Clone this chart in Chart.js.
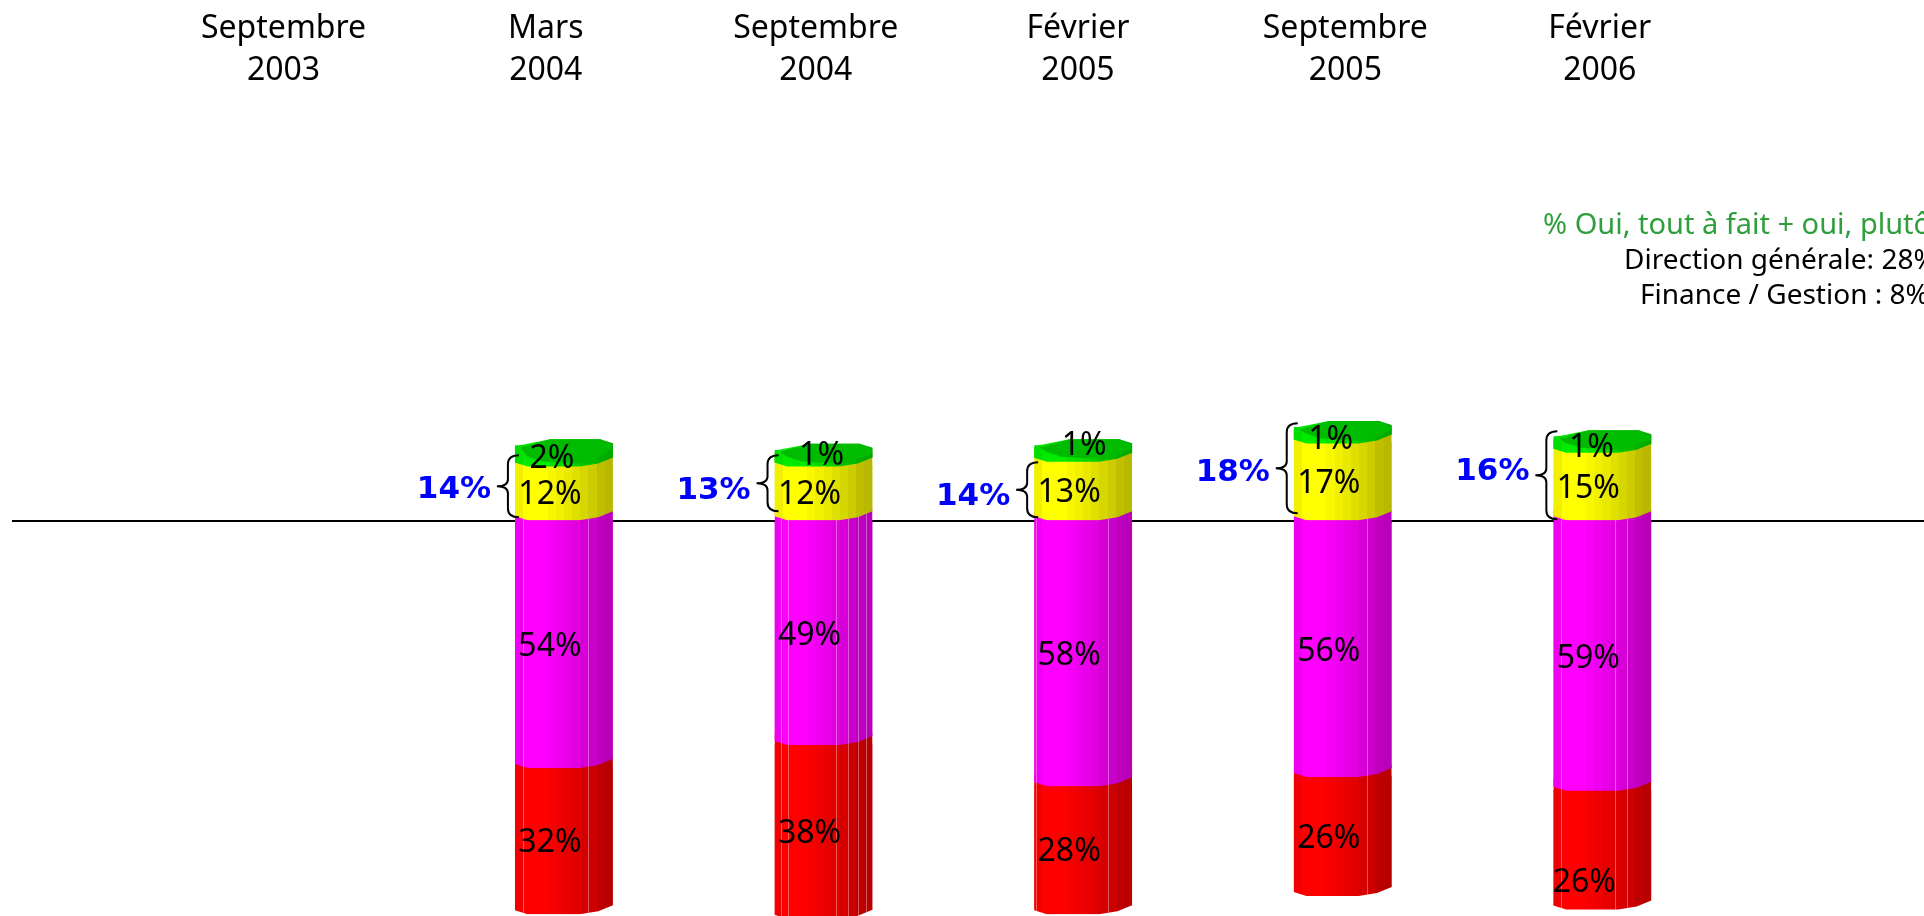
<!DOCTYPE html>
<html lang="fr">
<head>
<meta charset="utf-8">
<title>Sondage</title>
<script src="https://cdn.jsdelivr.net/npm/chart.js@4"></script>
<style>
  html, body { margin: 0; padding: 0; background: #fff; overflow: hidden; }
  canvas { display: block; }
</style>
</head>
<body>
<canvas id="myChart" width="1924" height="916"></canvas>
<script>
'use strict';

// Data (first period has no bar)
const periods = [['Septembre', '2003'], ['Mars', '2004'], ['Septembre', '2004'], ['Février', '2005'], ['Septembre', '2005'], ['Février', '2006']];
const greenValues = [null, 2, 1, 1, 1, 1];
const yellowValues = [null, 12, 12, 13, 17, 15];
const magentaValues = [null, -54, -49, -58, -56, -59];
const redValues = [null, -32, -38, -28, -26, -26];
const totals = [null, 14, 13, 14, 18, 16];
const noteLines = ['% Oui, tout à fait + oui, plutôt', 'Direction générale: 28%', 'Finance / Gestion : 8%'];

// Where the period labels sit on the x scale, they are not quite centred on the bars
const periodTicks = [-0.08, 0.93, 1.97, 2.98, 4.01, 4.99];

// Label nudges in pixels
const labelFont = '32px "Noto Sans"';
const greenNudge = [null, [-12, -5], [-2, -10], [1, -16], [-12, -3], [-11, -5]];
const redNudge = [null, [-14, 0], [-14, 0], [-14, 0], [-14, 0], [-18, 31]];
const totalNudge = [null, 4, 8, 7, 5, -3];
const braceSpans = [null, [-66, -4], [-66, -10], [-59, -4], [-98, -8], [-90, -2]];
const seams = [null, [0.08, 0.75], [0.07, 0.14, 0.63, 0.75, 0.85, 0.93], [0.02, 0.75], [0.75], [0.08, 0.63, 0.75]];

// Lower edge of every segment, [fraction of width, pixels]
const lowerEdge = [[0, -4], [0.13, 0], [0.66, 0], [0.85, -3], [1, -9]];
const shades = [0.94, 1, 1, 1, 0.97, 0.94, 0.91, 0.88, 0.84, 0.8, 0.75, 0.72];

const ctx = document.querySelector('#myChart').getContext('2d');

const bandFill = (context, rgb) => {
  const chart = context.chart;
  const centre = chart.scales.x.getPixelForValue(context.dataIndex);
  // scale has no size yet on the first pass
  if (!isFinite(centre)) return `rgb(${rgb.join(',')})`;
  const fill = chart.ctx.createLinearGradient(centre - 49, 0, centre + 49, 0);
  shades.forEach((shade, i) => {
    const colour = `rgb(${rgb.map(c => Math.round(c * shade)).join(',')})`;
    fill.addColorStop(i / shades.length, colour);
    fill.addColorStop((i + 1) / shades.length, colour);
  });
  return fill;
};

const barEdges = (el) => ({
  left: el.x - el.width / 2,
  width: el.width,
  top: Math.min(el.y, el.base),
  bottom: Math.max(el.y, el.base)
});

// Walk the real bars of a dataset, the empty first period has none
const eachBar = (chart, datasetIndex, fn) => {
  const points = chart.data.datasets[datasetIndex].data;
  chart.getDatasetMeta(datasetIndex).data.forEach((el, i) => {
    if (points[i].y !== null) fn(el, i, barEdges(el));
  });
};

const traceLowerEdge = (c, e) => {
  for (let i = lowerEdge.length - 1; i >= 0; i--) {
    c.lineTo(e.left + lowerEdge[i][0] * e.width, e.bottom + lowerEdge[i][1]);
  }
};

// Gives the flat bars their round look
const cylinderPlugin = {
  id: 'cylinder',
  beforeDatasetDraw(chart, args) {
    const c = chart.ctx;
    c.save();
    c.beginPath();
    eachBar(chart, args.index, (el, i, e) => {
      c.moveTo(e.left, e.top - 40);
      c.lineTo(e.left + e.width, e.top - 40);
      traceLowerEdge(c, e);
      c.closePath();
    });
    c.clip();
  },
  afterDatasetDraw(chart, args) {
    const c = chart.ctx;
    eachBar(chart, args.index, (el, i, e) => {
      // lower segment shows above its flat top where the upper one curves away
      c.fillStyle = el.options.backgroundColor;
      c.fillRect(e.left, e.top - 12, e.width, 13);
      if (args.index > 1) {
        c.strokeStyle = 'rgba(255, 255, 255, 0.35)';
        c.lineWidth = 1;
        seams[i].forEach(f => {
          const x = Math.round(e.left + f * e.width) + 0.5;
          c.beginPath();
          c.moveTo(x, e.top - 12);
          c.lineTo(x, e.bottom);
          c.stroke();
        });
      }
    });
    c.restore();
  },
  afterDatasetsDraw(chart) {
    // Green top goes over the yellow
    const c = chart.ctx;
    eachBar(chart, 1, (el, i, e) => {
      const at = f => e.left + f * e.width;
      c.fillStyle = el.options.backgroundColor;
      c.beginPath();
      c.moveTo(at(0), e.top - 9);
      c.lineTo(at(0.05), e.top - 12);
      c.lineTo(at(0.36), e.top - 18);
      c.lineTo(at(0.87), e.top - 18);
      c.lineTo(at(1), e.top - 14);
      traceLowerEdge(c, e);
      c.closePath();
      c.fill();

      c.fillStyle = '#00bb00';
      c.beginPath();
      c.moveTo(at(0.06), e.top - 10);
      c.lineTo(at(0.36), e.top - 18);
      c.lineTo(at(0.87), e.top - 18);
      c.lineTo(at(0.99), e.top - 13);
      c.lineTo(at(0.99), e.top - 8);
      c.lineTo(at(0.72), e.bottom - 3);
      c.lineTo(at(0.45), e.bottom - 4);
      c.lineTo(at(0.28), e.bottom - 5);
      c.lineTo(at(0.12), e.bottom - 10);
      c.closePath();
      c.fill();
    });
  }
};

// Value labels, braces, totals and the note on the right
const annotationsPlugin = {
  id: 'annotations',
  afterDraw(chart) {
    const c = chart.ctx;
    const zero = chart.scales.y.getPixelForValue(0);
    c.save();
    c.textBaseline = 'middle';
    c.textAlign = 'center';
    c.fillStyle = '#000';
    c.font = labelFont;

    chart.data.datasets.forEach((dataset, d) => {
      eachBar(chart, d, (el, i, e) => {
        let nudge = [-14, 0];
        if (d === 1) nudge = greenNudge[i];
        if (d === 3) nudge = redNudge[i];
        c.fillText(Math.abs(dataset.data[i].y) + '%', el.x + nudge[0], (e.top + e.bottom) / 2 + nudge[1] + 2);
      });
    });

    c.font = 'bold 31px "DejaVu Sans"';
    eachBar(chart, 0, (el, i, e) => {
      const spine = e.left - 7, tip = e.left - 18, end = e.left + 4;
      const top = zero + braceSpans[i][0], bottom = zero + braceSpans[i][1];
      const mid = (top + bottom) / 2;
      c.strokeStyle = '#000';
      c.lineWidth = 2;
      c.beginPath();
      c.moveTo(end, top);
      c.quadraticCurveTo(spine, top, spine, top + 9);
      c.lineTo(spine, mid - 7);
      c.quadraticCurveTo(spine, mid, tip, mid);
      c.quadraticCurveTo(spine, mid, spine, mid + 7);
      c.lineTo(spine, bottom - 9);
      c.quadraticCurveTo(spine, bottom, end, bottom);
      c.stroke();

      c.fillStyle = '#0000ff';
      c.fillText(totals[i] + '%', el.x - 110, mid + totalNudge[i]);
    });

    c.textAlign = 'left';
    c.font = '29px "Noto Sans"';
    c.fillStyle = '#2f9e3c';
    c.fillText(noteLines[0], 1543, 226);
    c.font = '28px "Noto Sans"';
    c.fillStyle = '#000';
    c.fillText(noteLines[1], 1624, 261);
    c.fillText(noteLines[2], 1640, 296);
    c.restore();
  }
};

const seriesData = (values) => values.map((y, x) => ({ x, y }));

const myChart = new Chart(ctx, {
  type: 'bar',
  data: {
    labels: periods,
    datasets: [
      { label: 'Oui, plutôt', data: seriesData(yellowValues), backgroundColor: c => bandFill(c, [255, 255, 0]) },
      { label: 'Oui, tout à fait', data: seriesData(greenValues), backgroundColor: c => bandFill(c, [0, 235, 0]) },
      { label: 'Non, plutôt pas', data: seriesData(magentaValues), backgroundColor: c => bandFill(c, [255, 0, 255]) },
      { label: 'Non, pas du tout', data: seriesData(redValues), backgroundColor: c => bandFill(c, [255, 0, 0]) }
    ]
  },
  options: {
    responsive: false,
    animation: false,
    barThickness: 98,
    layout: { padding: { left: 12, right: 0, top: 0, bottom: 0 } },
    plugins: {
      legend: { display: false },
      tooltip: { enabled: false }
    },
    scales: {
      x: {
        type: 'linear',
        position: 'top',
        offset: false,
        stacked: true,
        min: -1.126,
        max: 6.239,
        afterBuildTicks: scale => { scale.ticks = periodTicks.map(value => ({ value })); },
        afterFit: scale => { scale.height = 100; },
        grid: { display: false },
        border: { display: false },
        ticks: {
          autoSkip: false,
          maxRotation: 0,
          padding: 0,
          color: '#000',
          font: { family: '"Noto Sans"', size: 32, lineHeight: 1.31 },
          callback: (value, index) => periods[index]
        }
      },
      y: {
        stacked: true,
        min: -86.4,
        max: 92.2,
        afterBuildTicks: scale => { scale.ticks = [{ value: 0 }]; },
        afterFit: scale => { scale.width = 0; },
        border: { display: false },
        grid: { color: '#000', lineWidth: 2, drawTicks: false },
        ticks: { display: false }
      }
    }
  },
  plugins: [cylinderPlugin, annotationsPlugin]
});
</script>
</body>
</html>
